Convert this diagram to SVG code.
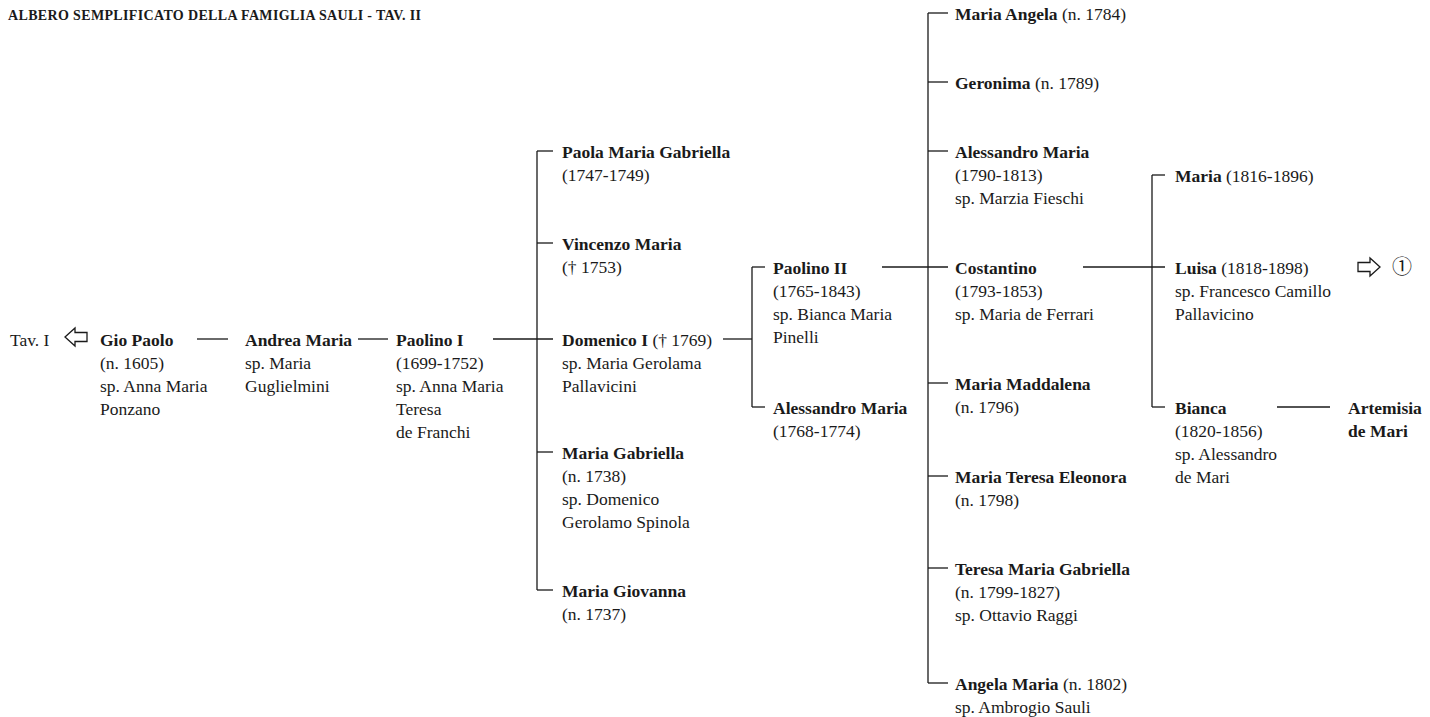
<svg xmlns="http://www.w3.org/2000/svg" width="1430" height="717" viewBox="0 0 1430 717">
<style>
text{font-family:"Liberation Serif","Times New Roman",serif;font-size:17.5px;fill:#1a1a1a}
.b{font-weight:bold}
.t{font-weight:bold;font-size:14px;letter-spacing:0.35px}
.c line{stroke:#1a1a1a;stroke-width:1.3}
.ar{fill:#fff;stroke:#1a1a1a;stroke-width:1.3;stroke-linejoin:miter}
.sym{font-family:"Noto Sans CJK JP","DejaVu Sans",sans-serif;font-size:20px}
</style>
<rect width="1430" height="717" fill="#fff"/>
<text class="t" x="8" y="20">ALBERO SEMPLIFICATO DELLA FAMIGLIA SAULI - TAV. II</text>

<g class="c" id="connectors">
<line x1="197" y1="339" x2="228" y2="339"/>
<line x1="358" y1="339" x2="388" y2="339"/>
<line x1="493" y1="339" x2="553" y2="339"/>
<line x1="537" y1="151" x2="537" y2="590"/>
<line x1="537" y1="151" x2="553" y2="151"/>
<line x1="537" y1="243" x2="553" y2="243"/>
<line x1="537" y1="452" x2="553" y2="452"/>
<line x1="537" y1="590" x2="553" y2="590"/>
<line x1="723" y1="339" x2="752" y2="339"/>
<line x1="752" y1="267" x2="752" y2="407"/>
<line x1="752" y1="267" x2="765" y2="267"/>
<line x1="752" y1="407" x2="765" y2="407"/>
<line x1="882" y1="267" x2="948" y2="267"/>
<line x1="928" y1="13" x2="928" y2="683"/>
<line x1="928" y1="13" x2="948" y2="13"/>
<line x1="928" y1="82" x2="948" y2="82"/>
<line x1="928" y1="151" x2="948" y2="151"/>
<line x1="928" y1="383" x2="948" y2="383"/>
<line x1="928" y1="476" x2="948" y2="476"/>
<line x1="928" y1="568" x2="948" y2="568"/>
<line x1="928" y1="683" x2="948" y2="683"/>
<line x1="1083" y1="267" x2="1165" y2="267"/>
<line x1="1152" y1="175" x2="1152" y2="407"/>
<line x1="1152" y1="175" x2="1165" y2="175"/>
<line x1="1152" y1="407" x2="1165" y2="407"/>
<line x1="1277" y1="407" x2="1330" y2="407"/>
</g>

<g id="tav1">
<text x="10" y="346">Tav. I</text>
<polygon class="ar" points="65,337 75,328 75,332.5 87,332.5 87,341.5 75,341.5 75,346"/>
</g>
<g id="gio-paolo">
<text class="b" x="100" y="346">Gio Paolo</text>
<text x="100" y="369">(n. 1605)</text>
<text x="100" y="392">sp. Anna Maria</text>
<text x="100" y="415">Ponzano</text>
</g>
<g id="andrea-maria">
<text class="b" x="245" y="346">Andrea Maria</text>
<text x="245" y="369">sp. Maria</text>
<text x="245" y="392">Guglielmini</text>
</g>
<g id="paolino-i">
<text class="b" x="396" y="346">Paolino I</text>
<text x="396" y="369">(1699-1752)</text>
<text x="396" y="392">sp. Anna Maria</text>
<text x="396" y="415">Teresa</text>
<text x="396" y="438">de Franchi</text>
</g>

<g id="paola-maria-gabriella">
<text class="b" x="562" y="158">Paola Maria Gabriella</text>
<text x="562" y="181">(1747-1749)</text>
</g>
<g id="vincenzo-maria">
<text class="b" x="562" y="250">Vincenzo Maria</text>
<text x="562" y="273">(† 1753)</text>
</g>
<g id="domenico-i">
<text x="562" y="346"><tspan class="b">Domenico I</tspan> († 1769)</text>
<text x="562" y="369">sp. Maria Gerolama</text>
<text x="562" y="392">Pallavicini</text>
</g>
<g id="maria-gabriella">
<text class="b" x="562" y="459">Maria Gabriella</text>
<text x="562" y="482">(n. 1738)</text>
<text x="562" y="505">sp. Domenico</text>
<text x="562" y="528">Gerolamo Spinola</text>
</g>
<g id="maria-giovanna">
<text class="b" x="562" y="597">Maria Giovanna</text>
<text x="562" y="620">(n. 1737)</text>
</g>

<g id="paolino-ii">
<text class="b" x="773" y="274">Paolino II</text>
<text x="773" y="297">(1765-1843)</text>
<text x="773" y="320">sp. Bianca Maria</text>
<text x="773" y="343">Pinelli</text>
</g>
<g id="alessandro-maria-1768">
<text class="b" x="773" y="414">Alessandro Maria</text>
<text x="773" y="437">(1768-1774)</text>
</g>

<g id="maria-angela">
<text x="955" y="20"><tspan class="b">Maria Angela</tspan> (n. 1784)</text>
</g>
<g id="geronima">
<text x="955" y="89"><tspan class="b">Geronima</tspan> (n. 1789)</text>
</g>
<g id="alessandro-maria-1790">
<text class="b" x="955" y="158">Alessandro Maria</text>
<text x="955" y="181">(1790-1813)</text>
<text x="955" y="204">sp. Marzia Fieschi</text>
</g>
<g id="costantino">
<text class="b" x="955" y="274">Costantino</text>
<text x="955" y="297">(1793-1853)</text>
<text x="955" y="320">sp. Maria de Ferrari</text>
</g>
<g id="maria-maddalena">
<text class="b" x="955" y="390">Maria Maddalena</text>
<text x="955" y="413">(n. 1796)</text>
</g>
<g id="maria-teresa-eleonora">
<text class="b" x="955" y="483">Maria Teresa Eleonora</text>
<text x="955" y="506">(n. 1798)</text>
</g>
<g id="teresa-maria-gabriella">
<text class="b" x="955" y="575">Teresa Maria Gabriella</text>
<text x="955" y="598">(n. 1799-1827)</text>
<text x="955" y="621">sp. Ottavio Raggi</text>
</g>
<g id="angela-maria">
<text x="955" y="690"><tspan class="b">Angela Maria</tspan> (n. 1802)</text>
<text x="955" y="713">sp. Ambrogio Sauli</text>
</g>

<g id="maria-1816">
<text x="1175" y="182"><tspan class="b">Maria</tspan> (1816-1896)</text>
</g>
<g id="luisa">
<text x="1175" y="274"><tspan class="b">Luisa</tspan> (1818-1898)</text>
<text x="1175" y="297">sp. Francesco Camillo</text>
<text x="1175" y="320">Pallavicino</text>
</g>
<g id="bianca">
<text class="b" x="1175" y="414">Bianca</text>
<text x="1175" y="437">(1820-1856)</text>
<text x="1175" y="460">sp. Alessandro</text>
<text x="1175" y="483">de Mari</text>
</g>
<g id="artemisia">
<text class="b" x="1348" y="414">Artemisia</text>
<text class="b" x="1348" y="437">de Mari</text>
</g>
<g id="rimando-1">
<polygon class="ar" points="1380,267 1370,258 1370,262.5 1358,262.5 1358,271.5 1370,271.5 1370,276"/>
<text class="sym" x="1392" y="274">①</text>
</g>
</svg>
